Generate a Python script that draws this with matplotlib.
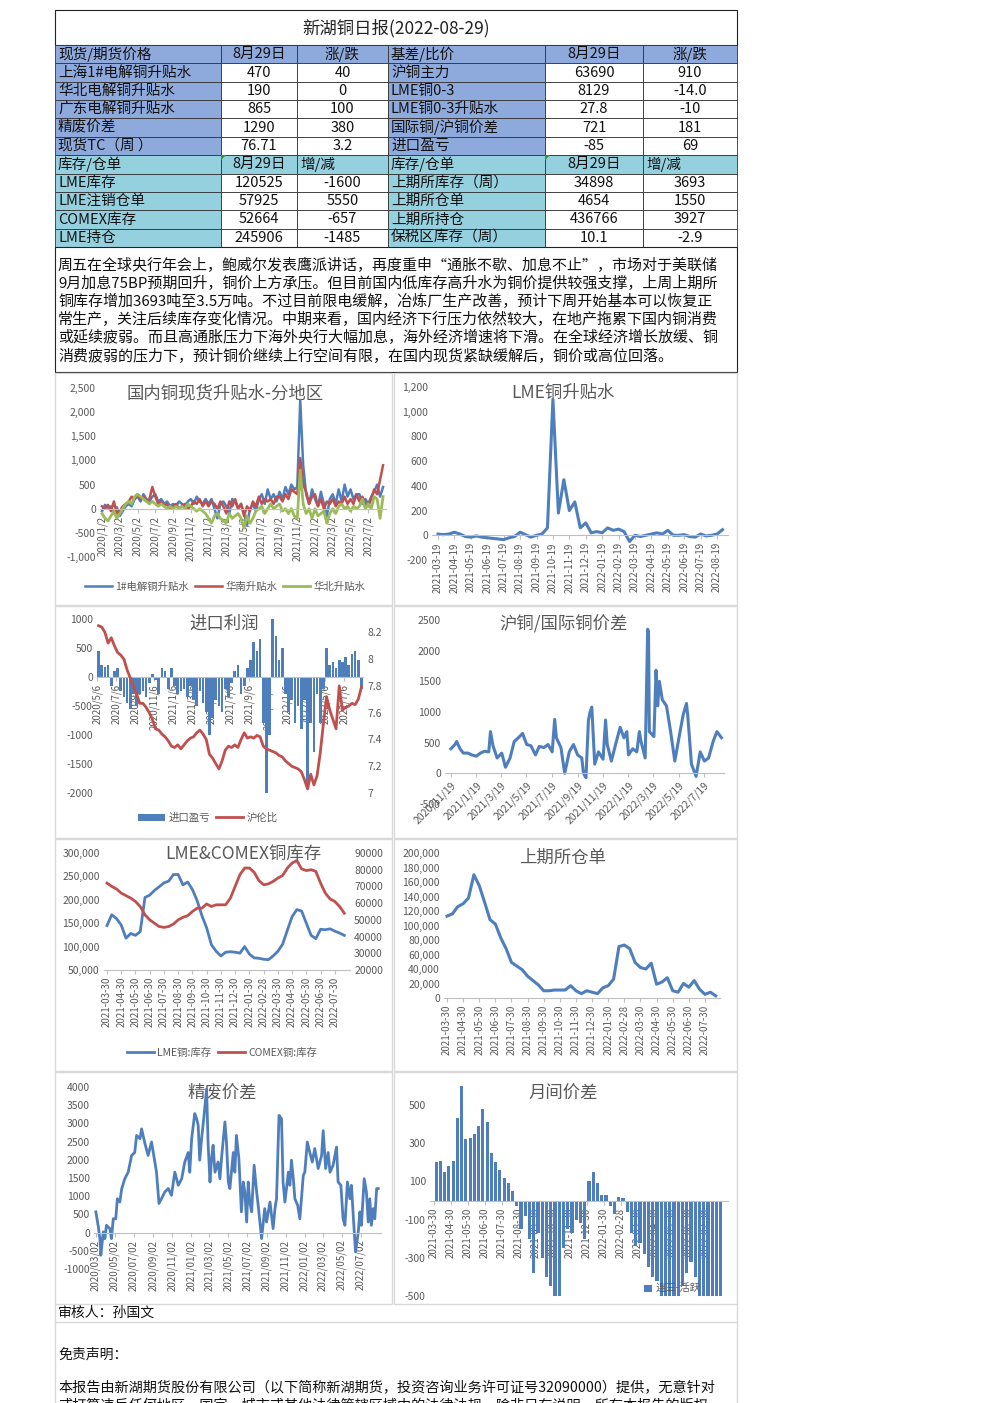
import numpy as np
import pandas as pd
import matplotlib
matplotlib.use("Agg")
import matplotlib.pyplot as plt
from matplotlib.patches import Rectangle, Polygon
from matplotlib.ticker import FuncFormatter

plt.rcParams["font.family"] = ["Noto Sans CJK SC", "DejaVu Sans"]
plt.rcParams["axes.unicode_minus"] = False

W, H = 992, 1403
BLUE, RED, GREEN = "#4F7EBD", "#C0504D", "#9BBB59"
GREY, AXC = "#595959", "#BFBFBF"
HDR_BLUE, HDR_CYAN = "#8EA9DB", "#95D0DF"

# ---------------- 表格 ----------------
left_labels = ["现货/期货价格", "上海1#电解铜升贴水", "华北电解铜升贴水", "广东电解铜升贴水", "精废价差",
               "现货TC（周 ）", "库存/仓单", "LME库存", "LME注销仓单", "COMEX库存", "LME持仓"]
left_vals = ["8月29日", "470", "190", "865", "1290", "76.71", "8月29日", "120525", "57925", "52664", "245906"]
left_chg = ["涨/跌", "40", "0", "100", "380", "3.2", "增/减", "-1600", "5550", "-657", "-1485"]
right_labels = ["基差/比价", "沪铜主力", "LME铜0-3", "LME铜0-3升贴水", "国际铜/沪铜价差", "进口盈亏",
                "库存/仓单", "上期所库存（周）", "上期所仓单", "上期所持仓", "保税区库存（周）"]
right_vals = ["8月29日", "63690", "8129", "27.8", "721", "-85", "8月29日", "34898", "4654", "436766", "10.1"]
right_chg = ["涨/跌", "910", "-14.0", "-10", "181", "69", "增/减", "3693", "1550", "3927", "-2.9"]

comment_lines = [
    "周五在全球央行年会上，鲍威尔发表鹰派讲话，再度重申“通胀不歇、加息不止”，市场对于美联储",
    "9月加息75BP预期回升，铜价上方承压。但目前国内低库存高升水为铜价提供较强支撑，上周上期所",
    "铜库存增加3693吨至3.5万吨。不过目前限电缓解，冶炼厂生产改善，预计下周开始基本可以恢复正",
    "常生产，关注后续库存变化情况。中期来看，国内经济下行压力依然较大，在地产拖累下国内铜消费",
    "或延续疲弱。而且高通胀压力下海外央行大幅加息，海外经济增速将下滑。在全球经济增长放缓、铜",
    "消费疲弱的压力下，预计铜价继续上行空间有限，在国内现货紧缺缓解后，铜价或高位回落。",
]

# ---------------- 图1 国内升贴水（2020/1 起，每月3个点） ----------------
dom_ticks = ["2020/1/2", "2020/3/2", "2020/5/2", "2020/7/2", "2020/9/2", "2020/11/2", "2021/1/2",
             "2021/3/2", "2021/5/2", "2021/7/2", "2021/9/2", "2021/11/2", "2022/1/2", "2022/3/2",
             "2022/5/2", "2022/7/2"]
dom_sh = [-50, 80, 20, 50, -100, 30, -150, -50, 50, 100, 50, 200, 250, 150, 300, 200, 150, 250,
          300, 150, 200, 100, 150, 50, 100, 50, 150, 100, 50, 150, 200, 100, 250, 150, 100, 200,
          100, 200, 0, -200, 100, 150, 50, -100, 200, 150, 0, 100, -100, -350, 0, 100, -50, 200,
          300, 100, 400, 200, 300, 150, 350, 200, 450, 300, 500, 400, 450, 2250, 900, 300, 100, 400,
          200, 50, 350, 100, -150, 200, 300, 100, 400, 150, 500, 250, 400, 200, 300, 300, 100, 200,
          100, 250, 350, 500, 250, 450]
dom_south = [50, 0, 80, -50, 150, -100, -50, 50, 100, 150, 250, 200, 300, 200, 250, 150, 200, 450,
             250, 100, 150, 50, 100, 0, 50, 100, 0, 50, 100, 0, 50, 150, 100, 200, 50, 150,
             50, 150, 100, 0, 150, 50, -100, 150, 50, 200, 0, 100, -150, 50, -50, 150, 50, 250,
             100, 200, 150, 200, 100, 250, 250, 150, 300, 200, 400, 350, 300, 1050, 500, 350, 100, 250,
             300, 50, 200, 0, 150, 100, 200, 50, 150, 100, 250, 100, 200, 100, 300, 150, 250, 100,
             50, 200, 400, 300, 600, 900]
dom_north = [-100, -200, -250, -150, -50, -200, -100, 0, 100, 150, 100, 250, 300, 250, 200, 150, 100, 150,
             100, 50, 100, 50, 0, 50, 0, 50, 0, 50, 0, 100, 50, 0, -50, 0, -50, -100,
             -200, -300, -150, -100, -200, -250, -300, -100, -200, -150, -100, -200, -400, -150, -300, -200, -50, 0,
             50, -100, 0, 100, 0, 50, 100, -50, 0, -100, 0, -150, -200, 800, 100, -100, 0, -200,
             0, -150, -100, -50, -300, -100, 0, -100, 50, 100, 0, 50, -50, 50, 0, 50, 200, 0,
             100, 0, 250, 200, -200, 250]

# ---------------- 图2 LME升贴水（2021-03-19 起，每月3个点） ----------------
lme_ticks = ["2021-03-19", "2021-04-19", "2021-05-19", "2021-06-19", "2021-07-19", "2021-08-19",
             "2021-09-19", "2021-10-19", "2021-11-19", "2021-12-19", "2022-01-19", "2022-02-19",
             "2022-03-19", "2022-04-19", "2022-05-19", "2022-06-19", "2022-07-19", "2022-08-19"]
lme_prem = [10, 5, 10, 25, 10, -10, -15, -5, -15, -20, -25, -30, -35, -20, -10, 25, 5, -15, 0, 10,
            60, 1100, 180, 450, 200, 270, 60, 100, 20, 30, 20, 60, 40, 50, 30, -50, 0, -10, 0, 10,
            20, 10, 40, 0, 0, 5, -10, -15, 10, -5, 0, 10, 45]

# ---------------- 图3 进口利润（2020/5 起，每月3个点） ----------------
imp_ticks = ["2020/5/6", "2020/7/6", "2020/9/6", "2020/11/6", "2021/1/6", "2021/3/6", "2021/5/6",
             "2021/7/6", "2021/9/6", "2021/11/6", "2022/1/6", "2022/3/6", "2022/5/6", "2022/7/6"]
imp_profit = [450, 200, 180, 200, -150, 100, 150, -250, -350, -450, -550, -300, -500, -300, -250,
              -350, -100, 50, -50, -300, 150, 100, -200, 150, -150, -300, -250, -200, -350, -150,
              -400, -500, -250, -450, -600, -1000, -700, -400, -500, -600, -200, -350, -100, 100, 200,
              -300, -150, 150, 300, 600, 450, 650, -800, -2000, -1000, 1000, 700, 300, 500, -300,
              -600, -400, -800, -500, -900, -400, -1900, -800, -1300, -300, -800, -200, 500, 200, 250,
              150, 300, 250, 350, 200, 400, 450, 300, -200]
shlon_ratio = [8.25, 8.24, 8.20, 8.12, 8.16, 8.10, 8.05, 8.03, 8.00, 7.92, 7.86, 7.80, 7.74, 7.67,
               7.67, 7.64, 7.60, 7.55, 7.48, 7.47, 7.44, 7.42, 7.39, 7.35, 7.34, 7.36, 7.33, 7.36,
               7.39, 7.41, 7.42, 7.45, 7.47, 7.44, 7.40, 7.29, 7.26, 7.22, 7.18, 7.24, 7.32, 7.35,
               7.34, 7.36, 7.34, 7.40, 7.45, 7.41, 7.42, 7.41, 7.43, 7.42, 7.35, 7.33, 7.32, 7.31,
               7.30, 7.28, 7.27, 7.24, 7.22, 7.20, 7.19, 7.18, 7.16, 7.10, 7.03, 7.14, 7.06, 7.13,
               7.30, 7.52, 7.72, 7.62, 7.55, 7.48, 7.80, 7.62, 7.64, 7.65, 7.67, 7.66, 7.70, 7.79]

# ---------------- 图4 沪铜/国际铜价差 ----------------
hl_ticks = ["2020/11/19", "2021/1/19", "2021/3/19", "2021/5/19", "2021/7/19", "2021/9/19",
            "2021/11/19", "2022/1/19", "2022/3/19", "2022/5/19", "2022/7/19"]
hl_dates = ["2020-11-19", "2020-11-29", "2020-12-03", "2020-12-11", "2020-12-19", "2020-12-30",
            "2021-01-08", "2021-01-19", "2021-01-29", "2021-02-08", "2021-02-18", "2021-02-22",
            "2021-02-28", "2021-03-10", "2021-03-21", "2021-03-30", "2021-04-10", "2021-04-20",
            "2021-04-30", "2021-05-10", "2021-05-20", "2021-05-30", "2021-06-10", "2021-06-19",
            "2021-06-30", "2021-07-10", "2021-07-20", "2021-07-26", "2021-07-30", "2021-08-10",
            "2021-08-19", "2021-08-30", "2021-09-09", "2021-09-19", "2021-09-29", "2021-10-03",
            "2021-10-09", "2021-10-15", "2021-10-19", "2021-10-23", "2021-10-30", "2021-11-08",
            "2021-11-19", "2021-11-25", "2021-11-29", "2021-12-09", "2021-12-19", "2021-12-30",
            "2022-01-08", "2022-01-15", "2022-01-19", "2022-01-29", "2022-02-08", "2022-02-14",
            "2022-02-18", "2022-02-28", "2022-03-06", "2022-03-08", "2022-03-10", "2022-03-21",
            "2022-03-26", "2022-03-30", "2022-04-03", "2022-04-10", "2022-04-20", "2022-04-30",
            "2022-05-10", "2022-05-20", "2022-05-30", "2022-06-07", "2022-06-10", "2022-06-19",
            "2022-06-30", "2022-07-10", "2022-07-20", "2022-07-30", "2022-08-10", "2022-08-19",
            "2022-08-30"]
hl_spread = [400, 470, 520, 400, 330, 330, 300, 280, 330, 360, 350, 680, 450, 250, 330, 100, 250, 520,
             580, 650, 470, 450, 300, 440, 420, 470, 350, 880, 580, 420, 0, 350, 470, 300, 250, 0,
             -70, 870, 1000, 1080, 150, 350, 230, 870, 470, 200, 470, 750, 580, 680, 300, 400, 350, 680,
             520, 250, 2350, 2300, 680, 600, 1680, 1100, 1500, 1200, 1100, 680, 200, 580, 950, 1140,
             950, 150, -50, 350, 200, 250, 520, 680, 580]

# ---------------- 图5/6 库存与仓单（2021-03-30 起，每月3个点，千吨） ----------------
stock_ticks = ["2021-03-30", "2021-04-30", "2021-05-30", "2021-06-30", "2021-07-30", "2021-08-30",
               "2021-09-30", "2021-10-30", "2021-11-30", "2021-12-30", "2022-01-30", "2022-02-28",
               "2022-03-30", "2022-04-30", "2022-05-30", "2022-06-30", "2022-07-30"]
lme_stock_k = [145, 168, 160, 146, 118, 128, 124, 132, 205, 210, 220, 228, 236, 240, 254, 254, 232,
               238, 222, 198, 166, 140, 104, 90, 80, 88, 89, 88, 86, 100, 84, 76, 75, 73, 72, 80,
               90, 105, 135, 164, 179, 176, 150, 124, 117, 137, 136, 138, 133, 129, 124]
comex_stock_k = [72, 70, 68.5, 66, 64.5, 63, 61, 58, 53, 50, 48, 46, 45.5, 46, 47.5, 50, 51.5, 52.5,
                 55, 57, 57, 59.5, 58, 59, 59, 59, 63, 70, 77, 81, 81, 78.5, 73.5, 71, 71.5, 73,
                 75, 76.5, 81, 84, 85.5, 80.5, 79.5, 80, 79, 72, 66, 62.5, 61, 58, 54]
shfe_wr_k = [113, 116, 126, 130, 138, 170, 155, 132, 108, 102, 83, 68, 49, 44, 39, 30, 24, 18, 10,
             10, 11, 11, 11, 17, 10, 6, 10, 8, 6, 14, 17, 26, 71, 73, 68, 49, 42, 40, 48, 19,
             22, 28, 10, 8, 20, 15, 24, 12, 5, 8, 3]

# ---------------- 图7 精废价差 ----------------
jf_ticks = ["2020/03/02", "2020/05/02", "2020/07/02", "2020/09/02", "2020/11/02", "2021/01/02",
            "2021/03/02", "2021/05/02", "2021/07/02", "2021/09/02", "2021/11/02", "2022/01/02",
            "2022/03/02", "2022/05/02", "2022/07/02"]
jf_days = [0, 8, 13, 16, 24, 29, 34, 45, 50, 56, 64, 69, 77, 83, 93, 104, 115, 125, 131, 142,
           147, 158, 168, 179, 188, 195, 203, 211, 222, 233, 243, 254, 265, 276, 286, 297, 302, 308, 318, 324,
           329, 334, 340, 348, 356, 361, 367, 372, 377, 383, 393, 399, 404, 410, 415, 420, 426, 431, 442, 447,
           452, 460, 468, 474, 479, 485, 490, 495, 501, 509, 517, 522, 533, 543, 549, 560, 570, 576, 581, 589,
           597, 602, 608, 613, 619, 624, 629, 635, 640, 649, 656, 662, 667, 672, 680, 688, 696, 704, 715, 726,
           731, 739, 747, 753, 763, 774, 779, 788, 795, 801, 809, 817, 822, 827, 835, 844, 849, 854, 863, 870,
           876, 881, 886, 892, 897, 903, 908]
jf_spread = [570, 155, -165, -620, 20, -165, 200, 110, -165, 380, 380, 930, 840, 1200, 1480, 1660, 2120, 2200, 2670, 2580,
             2850, 2440, 2120, 2490, 2030, 1660, 800, 930, 1120, 1210, 1025, 1660, 1300, 1480, 1940, 2200, 1660, 2580, 3270, 3130,
             2950, 1990, 2580, 3220, 3950, 2440, 1390, 2030, 2400, 1660, 1940, 1480, 2030, 2580, 3040, 2490, 1390, 1210, 2200, 1660,
             2670, 2030, 570, 1390, 1120, 290, 1390, 840, 570, 1850, 1120, 750, -165, 660, 290, 840, 110, 660, 930, 3220,
             3130, 1390, 840, 1210, 1660, 1300, 1990, 1480, 930, 750, 380, 1025, 1570, 1660, 2490, 2200, 1940, 2310, 1760, 2120,
             2800, 1760, 2200, 1660, 1850, 2350, 1390, 1300, 380, 200, 1390, 930, 1300, 570, -530, 20, 570, 200, 1480, 1120,
             290, 930, 200, 660, 380, 1210, 1210]

# ---------------- 图8 月间价差（2021-03-30 起，每月4个点） ----------------
cal_spread = [200, 205, 150, 180, 205, 430, 610, 320, 330, 350, 390, 480, 410, 250, 200, 160,
              120, 90, 50, -30, -150, -80, -200, -380, -170, -300, -400, -450, -560, -540, -250, -150,
              -170, -100, -120, -200, 100, 150, 90, 30, 30, -30, -70, 20, 15, -60, -170, -240,
              -220, -280, -350, -400, -420, -560, -580, -540, -550, -600, -450, -380, -320, -400, -560, -590,
              -570, -600, -580, -560]

fig = plt.figure(figsize=(W / 100, H / 100), dpi=100)
page = fig.add_axes([0, 0, 1, 1])
page.set_xlim(0, W)
page.set_ylim(H, 0)
page.axis("off")

# 标题和表格
page.add_patch(Rectangle((55, 10), 682, 35, fc="white", ec="#222", lw=0.8))
page.text(396, 28, "新湖铜日报(2022-08-29)", ha="center", va="center", fontsize=12.5, color="#222")
cols = [55, 221, 297, 388, 545, 643, 737]
top, rh = 45, 202 / 11
for r in range(11):
    y = top + r * rh
    head = r in (0, 6)
    fill = HDR_BLUE if r < 6 else HDR_CYAN
    cells = [left_labels[r], left_vals[r], left_chg[r], right_labels[r], right_vals[r], right_chg[r]]
    for c, t in enumerate(cells):
        fc = fill if (head or c in (0, 3)) else "white"
        page.add_patch(Rectangle((cols[c], y), cols[c + 1] - cols[c], rh, fc=fc, ec="#333", lw=0.6))
        if c in (0, 3) or t == "增/减":
            page.text(cols[c] + 3, y + rh / 2, t, ha="left", va="center", fontsize=10.5, color="#111")
        else:
            page.text((cols[c] + cols[c + 1]) / 2, y + rh / 2, t, ha="center", va="center",
                      fontsize=10.5, color="#111")
for gx in (221, 545):
    y = top + 6 * rh
    page.add_patch(Polygon([(gx, y), (gx + 5, y), (gx, y + 5)], fc="#2E9E3E", ec="none"))

# 评论
page.add_patch(Rectangle((55, 247), 682, 125, fc="white", ec="#222", lw=0.8))
for i, line in enumerate(comment_lines):
    page.text(58, 265 + i * 18.2, line, ha="left", va="center", fontsize=10.8, color="#111")

# 图框
panels = [(55, 373, 392, 605), (394, 373, 737, 605), (55, 606, 392, 838), (394, 606, 737, 838),
          (55, 839, 392, 1071), (394, 839, 737, 1071), (55, 1072, 392, 1304), (394, 1072, 737, 1304)]
for x0, y0, x1, y1 in panels:
    page.add_patch(Rectangle((x0, y0), x1 - x0, y1 - y0, fc="white", ec="#D9D9D9", lw=1))

titles = [("国内铜现货升贴水-分地区", 225, 394), ("LME铜升贴水", 563, 393), ("进口利润", 224, 624),
          ("沪铜/国际铜价差", 564, 624), ("LME&COMEX铜库存", 243, 854), ("上期所仓单", 563, 858),
          ("精废价差", 222, 1092), ("月间价差", 563, 1094)]
for t, tx, ty in titles:
    page.text(tx, ty, t, ha="center", va="center", fontsize=12.5, color=GREY, zorder=5)

# 底部
page.plot([55, 55], [1304, H], color="#D9D9D9", lw=1)
page.plot([737, 737], [1304, H], color="#D9D9D9", lw=1)
page.plot([55, 737], [1322, 1322], color="#D9D9D9", lw=1)
page.text(58, 1313, "审核人：孙国文", ha="left", va="center", fontsize=10, color="#111")
page.text(58, 1355, "免责声明：", ha="left", va="center", fontsize=10, color="#111")
page.text(58, 1388, "本报告由新湖期货股份有限公司（以下简称新湖期货，投资咨询业务许可证号32090000）提供，无意针对",
          ha="left", va="center", fontsize=10.2, color="#111")
page.text(58, 1406, "或打算违反任何地区、国家、城市或其他法律管辖区域内的法律法规。除非另有说明，所有本报告的版权",
          ha="left", va="center", fontsize=10.2, color="#111")


def add_ax(x0, y0, x1, y1):
    ax = fig.add_axes([x0 / W, 1 - y1 / H, (x1 - x0) / W, (y1 - y0) / H])
    ax.set_facecolor("none")
    for s in ("top", "right", "left"):
        ax.spines[s].set_visible(False)
    ax.spines["bottom"].set_color(AXC)
    ax.tick_params(axis="y", length=0, labelsize=7.5, labelcolor=GREY, pad=3)
    ax.tick_params(axis="x", length=3, color=AXC, labelsize=7, labelcolor=GREY, pad=2)
    return ax


def style_twin(axr):
    axr.set_facecolor("none")
    for s in axr.spines.values():
        s.set_visible(False)
    axr.tick_params(axis="y", length=0, labelsize=7.5, labelcolor=GREY, pad=3)


def legend_at(ax, handles, labels, cx, cy, **kw):
    opts = dict(loc="center", bbox_to_anchor=(cx / W, 1 - cy / H), bbox_transform=fig.transFigure,
                ncol=len(labels), frameon=False, fontsize=7.5, labelcolor=GREY, handlelength=2.6,
                columnspacing=0.6, handletextpad=0.3)
    opts.update(kw)
    ax.legend(handles, labels, **opts)


comma = FuncFormatter(lambda v, p: f"{v:,.0f}")

# 图1
ax1 = add_ax(100, 388, 386, 557)
x = np.arange(len(dom_sh))
l1, = ax1.plot(x, dom_sh, color=BLUE, lw=1.8)
l2, = ax1.plot(x, dom_south, color=RED, lw=1.8)
l3, = ax1.plot(x, dom_north, color=GREEN, lw=2.0)
ax1.set_ylim(-1000, 2500)
ax1.set_yticks(range(-1000, 2501, 500))
ax1.yaxis.set_major_formatter(comma)
ax1.set_xlim(-0.7, 96)
ax1.spines["bottom"].set_position(("data", 0))
ax1.set_xticks(np.arange(0, len(x), 6))
ax1.set_xticklabels(dom_ticks, rotation=90)
legend_at(ax1, [l1, l2, l3], ["1#电解铜升贴水", "华南升贴水", "华北升贴水"], 225, 587)

# 图2
ax2 = add_ax(432, 387, 728, 560)
x = np.arange(len(lme_prem))
ax2.plot(x, lme_prem, color=BLUE, lw=2.2)
ax2.set_ylim(-200, 1200)
ax2.set_yticks(range(-200, 1201, 200))
ax2.yaxis.set_major_formatter(comma)
ax2.set_xlim(-1.1, 53)
ax2.spines["bottom"].set_position(("data", 0))
ax2.set_xticks(np.arange(0, 3 * len(lme_ticks), 3))
ax2.set_xticklabels(lme_ticks, rotation=90)

# 图3
ax3 = add_ax(97, 619, 363, 793)
x = np.arange(len(imp_profit))
ax3.set_axisbelow(True)
bars = ax3.bar(x, imp_profit, width=0.85, color=BLUE)
ax3.set_ylim(-2000, 1000)
ax3.set_yticks(range(-2000, 1001, 500))
ax3.set_xlim(-0.5, len(x) - 0.5)
ax3.spines["bottom"].set_position(("data", 0))
ax3.set_xticks(np.arange(0, len(x), 6) - 0.5)
ax3.set_xticklabels(imp_ticks, rotation=90)
ax3r = ax3.twinx()
style_twin(ax3r)
lr, = ax3r.plot(x, shlon_ratio, color=RED, lw=2)
ax3r.set_ylim(7, 8.3)
ax3r.set_yticks([7, 7.2, 7.4, 7.6, 7.8, 8, 8.2])
ax3r.yaxis.set_major_formatter(FuncFormatter(lambda v, p: f"{v:g}"))
legend_at(ax3r, [bars, lr], ["进口盈亏", "沪伦比"], 208, 818)

# 图4
ax4 = add_ax(445, 620, 724, 804)
start4 = pd.Timestamp("2020-11-19")
d4 = (pd.to_datetime(hl_dates) - start4).days
ax4.plot(d4, hl_spread, color=BLUE, lw=2.2)
ax4.set_ylim(-500, 2500)
ax4.set_yticks(range(-500, 2501, 500))
ax4.set_xlim(-14, (pd.Timestamp("2022-07-19") - start4).days + 48)
ax4.spines["bottom"].set_position(("data", 0))
ax4.set_xticks((pd.to_datetime(hl_ticks, format="%Y/%m/%d") - start4).days)
ax4.set_xticklabels(hl_ticks, rotation=45, ha="right", va="top", rotation_mode="anchor", fontsize=7.5)

# 图5
ax5 = add_ax(104, 853, 350, 970)
x = np.arange(len(lme_stock_k))
l5a, = ax5.plot(x, np.array(lme_stock_k) * 1000, color=BLUE, lw=2)
ax5.set_ylim(50000, 300000)
ax5.set_yticks(range(50000, 300001, 50000))
ax5.yaxis.set_major_formatter(comma)
ax5.set_xlim(-0.63, 51.2)
ax5.set_xticks(np.arange(0, 3 * len(stock_ticks), 3))
ax5.set_xticklabels(stock_ticks, rotation=90)
ax5r = ax5.twinx()
style_twin(ax5r)
l5b, = ax5r.plot(x, np.array(comex_stock_k) * 1000, color=RED, lw=2)
ax5r.set_ylim(20000, 90000)
ax5r.set_yticks(range(20000, 90001, 10000))
ax5r.yaxis.set_major_formatter(FuncFormatter(lambda v, p: f"{v:.0f}"))
legend_at(ax5r, [l5a, l5b], ["LME铜:库存", "COMEX铜:库存"], 222, 1053)

# 图6
ax6 = add_ax(444, 853, 720, 998)
x = np.arange(len(shfe_wr_k))
ax6.plot(x, np.array(shfe_wr_k) * 1000, color=BLUE, lw=2.2)
ax6.set_ylim(0, 200000)
ax6.set_yticks(range(0, 200001, 20000))
ax6.yaxis.set_major_formatter(comma)
ax6.set_xlim(-0.56, 50.8)
ax6.set_xticks(np.arange(0, 3 * len(stock_ticks), 3))
ax6.set_xticklabels(stock_ticks, rotation=90)

# 图7
ax7 = add_ax(94, 1087, 381, 1269)
start7 = pd.Timestamp("2020-03-02")
ax7.plot(jf_days, jf_spread, color=BLUE, lw=2)
ax7.set_ylim(-1000, 4000)
ax7.set_yticks(range(-1000, 4001, 500))
ax7.set_xlim(-6, 917)
ax7.spines["bottom"].set_position(("data", 0))
ax7.set_xticks((pd.to_datetime(jf_ticks, format="%Y/%m/%d") - start7).days)
ax7.set_xticklabels(jf_ticks, rotation=90)

# 图8
ax8 = add_ax(430, 1086, 728, 1296)
x = np.arange(len(cal_spread))
ax8.set_axisbelow(True)
b8 = ax8.bar(x, cal_spread, width=0.75, color=BLUE)
ax8.set_ylim(-500, 600)
ax8.set_yticks([-500, -300, -100, 100, 300, 500])
ax8.set_xlim(-1.44, 68.7)
ax8.spines["bottom"].set_position(("data", 0))
ax8.set_xticks(np.arange(0, 4 * len(stock_ticks), 4) - 0.5)
ax8.set_xticklabels(stock_ticks, rotation=90)
legend_at(ax8, [b8], ["连三-活跃"], 672, 1289, handlelength=0.8)

fig.savefig("out.png", dpi=100, facecolor="white")
